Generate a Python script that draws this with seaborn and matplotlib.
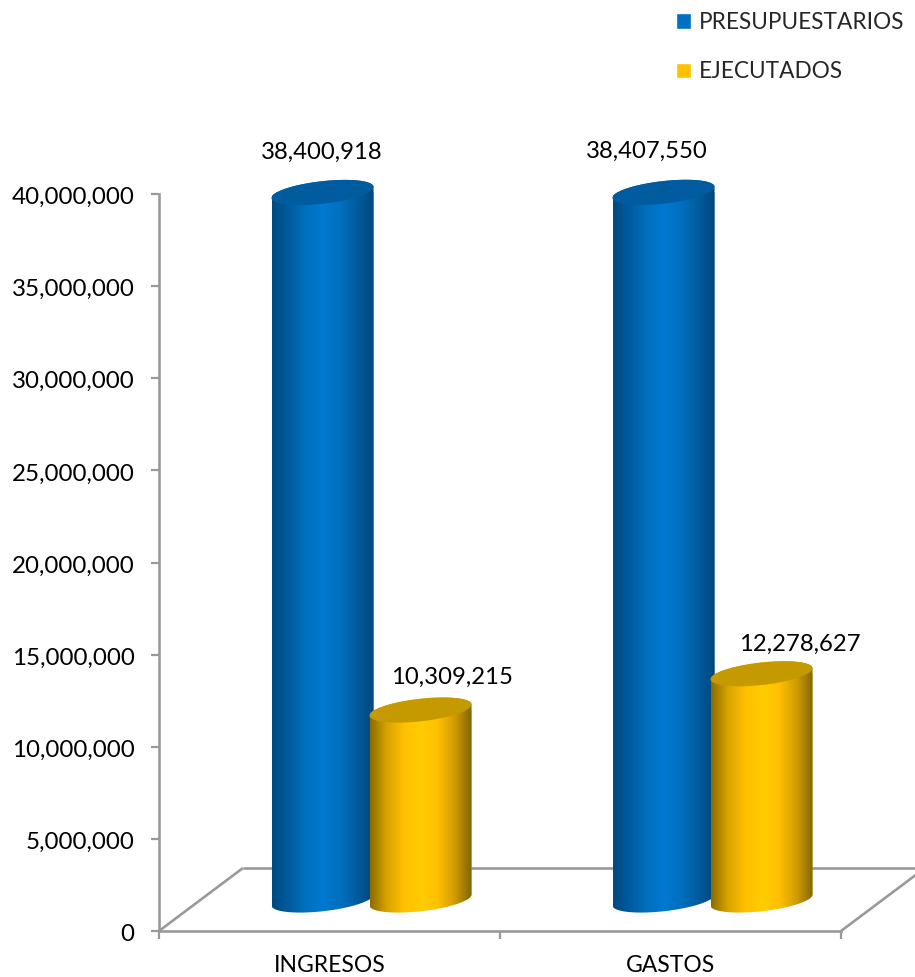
#! /usr/bin/env python
"""
Budget vs executed amounts as cylinders on a floor
"""

import numpy as np
import pandas as pd
import seaborn as sns
import matplotlib
matplotlib.use("Agg")
import matplotlib.pyplot as plt
from matplotlib.colors import LinearSegmentedColormap
from matplotlib.patches import Patch, Polygon
from matplotlib.ticker import FuncFormatter, MultipleLocator
from matplotlib.transforms import ScaledTranslation

CATEGORIES = ["INGRESOS", "GASTOS"]
SERIES = ["PRESUPUESTARIOS", "EJECUTADOS"]
PRESUPUESTARIOS = [38400918, 38407550]
EJECUTADOS = [10309215, 12278627]

COLORS = ["#0070c0", "#ffc000"]
TOP_COLORS = ["#005c9e", "#c49a00"]
GRADIENTS = [
    ["#004a80", "#005c9e", "#0070c0", "#0079d0", "#0070c0", "#005c9e", "#00477b"],
    ["#8a6c00", "#d9a400", "#ffc000", "#ffcc00", "#ffc000", "#d09c00", "#7f6400"],
]
# label offsets from the top of each bar, in pixels
LABEL_OFFSETS = [[(-1, 40), (-17, 41)], [(31, 33), (38, 29)]]

GREY = "#999999"
PX_X = 341.0  # pixels per category
PX_Y = 737.0 / 40000000  # pixels per unit of value

sns.set_style("white")
plt.rcParams["font.family"] = ["Lato", "DejaVu Sans"]

df = pd.DataFrame({
    "categoria": CATEGORIES * 2,
    "serie": [SERIES[0]] * 2 + [SERIES[1]] * 2,
    "valor": PRESUPUESTARIOS + EJECUTADOS,
})

fig = plt.figure(figsize=(9.15, 9.77), dpi=100)
ax = fig.add_axes([159 / 915, 46 / 977, 682 / 915, 737 / 977])

depth_x = 42 / PX_X
depth_y = 31 / PX_Y
sns.barplot(
    data=df, x="categoria", y="valor", hue="serie", hue_order=SERIES,
    order=CATEGORIES, palette=COLORS, width=98 / PX_X * 2, gap=0,
    bottom=depth_y, legend=False, errorbar=None, ax=ax,
)

bar_w = 102 / PX_X
semi_b = 11.3 / PX_Y
shear = 5.5 / PX_Y
for s, container in enumerate(ax.containers):
    cmap = LinearSegmentedColormap.from_list(SERIES[s], GRADIENTS[s])
    for c, bar in enumerate(container):
        cx = bar.get_x() + bar.get_width() / 2 + depth_x
        top = bar.get_y() + bar.get_height()
        base = bar.get_y()
        bar.set_x(cx - bar_w / 2)
        bar.set_width(bar_w)
        bar.set_linewidth(0)
        bar.set_zorder(3 + s)

        t = np.linspace(np.pi, 2 * np.pi, 60)
        low_x = cx + bar_w / 2 * np.cos(t)
        low_y = base + semi_b * np.sin(t) + shear * np.cos(t)
        t = np.linspace(0, np.pi, 60)
        up_x = cx + bar_w / 2 * np.cos(t)
        up_y = top + semi_b * np.sin(t) + shear * np.cos(t)
        outline = Polygon(
            np.column_stack([np.r_[low_x, up_x], np.r_[low_y, up_y]]),
            transform=ax.transData,
        )
        bar.set_clip_box(fig.bbox)
        bar.set_clip_path(outline)
        im = ax.imshow(
            np.linspace(0, 1, 256)[None, :], cmap=cmap, aspect="auto",
            extent=(cx - bar_w / 2, cx + bar_w / 2, base - 2 * semi_b, top + 2 * semi_b),
            zorder=3 + s, interpolation="bilinear",
        )
        im.set_clip_box(fig.bbox)
        im.set_clip_path(outline)

        t = np.linspace(0, 2 * np.pi, 120)
        ax.fill(
            cx + bar_w / 2 * np.cos(t),
            top + semi_b * np.sin(t) + shear * np.cos(t),
            color=TOP_COLORS[s], linewidth=0, zorder=3.5 + s, clip_on=False,
        )
        ax.annotate(
            f"{int(round(top - base)):,d}", xy=(cx, top),
            xytext=LABEL_OFFSETS[s][c], textcoords="offset pixels",
            ha="center", va="center", fontsize=17.2, color="black", zorder=8,
            annotation_clip=False,
        )

ax.set_xlim(-0.5, 1.5)
ax.set_ylim(0, 40000000)

# floor of the 3d box, runs off the right side of the figure
floor_x = 84 / PX_X
floor_y = 63 / PX_Y
line_kw = dict(color=GREY, linewidth=1.9, clip_on=False, zorder=1, solid_capstyle="butt")
ax.plot([-0.5, -0.5 + floor_x], [0, floor_y], **line_kw)
ax.plot([-0.5 + floor_x, 1.9], [floor_y, floor_y], **line_kw)
ax.plot([1.5, 1.5 + floor_x], [0, floor_y], **line_kw)

sns.despine(ax=ax)
for side in ["left", "bottom"]:
    ax.spines[side].set_color(GREY)
    ax.spines[side].set_linewidth(1.9)

ax.yaxis.set_major_locator(MultipleLocator(5000000))
ax.yaxis.set_major_formatter(FuncFormatter(lambda v, _: f"{v:,.0f}"))
ax.tick_params(axis="y", left=True, length=5.5, width=1.6, color=GREY,
               labelsize=17.4, labelcolor="black", pad=12)
ax.set_xticks([-0.5, 0.5, 1.5], ["", "", ""])
ax.set_xticks([0, 1], CATEGORIES, minor=True)
ax.tick_params(axis="x", which="major", bottom=True, length=5.5, width=1.6, color=GREY)
ax.tick_params(axis="x", which="minor", bottom=False, length=0, labelsize=16.5,
               labelcolor="black", pad=17)
ax.set_xlabel("")
ax.set_ylabel("")

# y labels sit a little below their ticks
nudge = ScaledTranslation(0, -1.5 / 100, fig.dpi_scale_trans)
for label in ax.get_yticklabels():
    label.set_transform(label.get_transform() + nudge)

handles = [Patch(facecolor=col, label=name) for col, name in zip(COLORS, SERIES)]
fig.legend(
    handles=handles, loc="upper left", bbox_to_anchor=(676 / 915, 1 - 12 / 977),
    bbox_transform=fig.transFigure, frameon=False, fontsize=16.3, borderaxespad=0,
    borderpad=0, handlelength=0.66, handleheight=0.66, handletextpad=0.35, labelspacing=1.25,
)

fig.savefig("out.png", dpi=100)
